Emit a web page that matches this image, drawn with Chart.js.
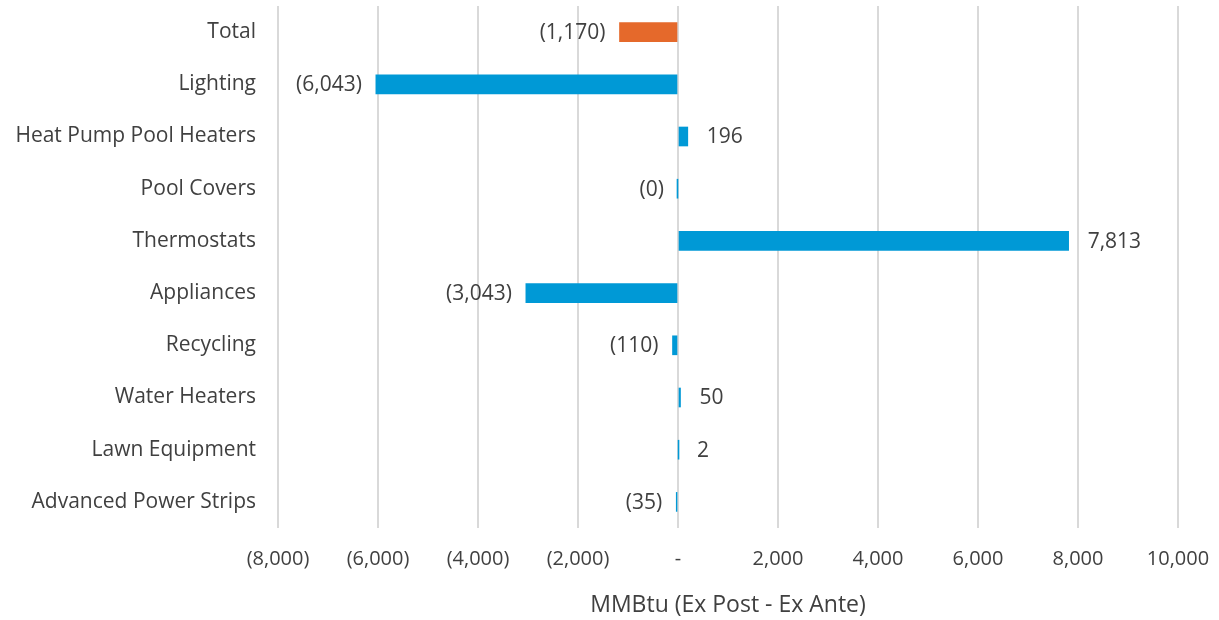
<!DOCTYPE html>
<html>
<head>
<meta charset="utf-8">
<script src="https://cdn.jsdelivr.net/npm/chart.js@4.4.1/dist/chart.umd.min.js"></script>
<style>
  html, body { margin: 0; padding: 0; background: #fff; }
  #wrap { width: 1219px; height: 620px; }
</style>
</head>
<body>
<div id="wrap"><canvas id="chart"></canvas></div>
<script>
// MMBtu difference per measure, ex post minus ex ante
const categories = ['Total', 'Lighting', 'Heat Pump Pool Heaters', 'Pool Covers', 'Thermostats',
  'Appliances', 'Recycling', 'Water Heaters', 'Lawn Equipment', 'Advanced Power Strips'];
const savingsDiff = [-1170, -6043, 196, -0.3, 7813, -3043, -110, 50, 2, -35];
const xTicks = [-8000, -6000, -4000, -2000, 0, 2000, 4000, 6000, 8000, 10000];

const BLUE = '#0099d6';
const ORANGE = '#e5692b';
const FONT = '"Open Sans", Lato, sans-serif';

function accounting(v) {
  const n = Math.round(Math.abs(v)).toLocaleString('en-US');
  return v < 0 ? '(' + n + ')' : n;
}

// value labels at the outer end of each bar
const barLabels = {
  id: 'barLabels',
  afterDatasetsDraw(chart) {
    const ctx = chart.ctx;
    const meta = chart.getDatasetMeta(0);
    ctx.save();
    ctx.font = '21px ' + FONT;
    ctx.fillStyle = '#404040';
    ctx.textBaseline = 'middle';
    meta.data.forEach((bar, i) => {
      const v = savingsDiff[i];
      if (v < 0) {
        ctx.textAlign = 'right';
        ctx.fillText(accounting(v), bar.x - 14, bar.y + 1);
      } else {
        ctx.textAlign = 'left';
        ctx.fillText(accounting(v), bar.x + 19, bar.y + 1);
      }
    });
    ctx.restore();
  }
};

new Chart(document.getElementById('chart'), {
  type: 'bar',
  data: {
    labels: categories,
    datasets: [{
      data: savingsDiff,
      backgroundColor: categories.map(c => c === 'Total' ? ORANGE : BLUE),
      borderWidth: 0,
      barThickness: 19
    }]
  },
  options: {
    indexAxis: 'y',
    responsive: true,
    maintainAspectRatio: false,
    animation: false,
    layout: { padding: { top: 6, right: 41, bottom: 0, left: 0 } },
    plugins: {
      legend: { display: false },
      tooltip: { enabled: false }
    },
    scales: {
      x: {
        min: -8000,
        max: 10000,
        afterBuildTicks: s => { s.ticks = xTicks.map(v => ({ value: v })); },
        afterFit: s => { s.height = 92; s.paddingLeft = 0; s.paddingRight = 0; },
        grid: { color: '#d9d9d9', lineWidth: 2, drawTicks: false },
        border: { display: false },
        ticks: {
          padding: 19,
          color: '#404040',
          font: { family: FONT, size: 20 },
          maxRotation: 0,
          callback: v => v === 0 ? '-' : accounting(v)
        },
        title: {
          display: true,
          text: 'MMBtu (Ex Post - Ex Ante)',
          color: '#404040',
          font: { family: FONT, size: 23 },
          padding: { top: 20, bottom: 1 }
        }
      },
      y: {
        afterFit: s => { s.width = 278; s.paddingTop = 0; s.paddingBottom = 0; },
        grid: { display: false, drawTicks: false },
        border: { display: false },
        ticks: {
          padding: 22,
          color: '#404040',
          font: { family: FONT, size: 21 }
        }
      }
    }
  },
  plugins: [barLabels]
});
</script>
</body>
</html>
